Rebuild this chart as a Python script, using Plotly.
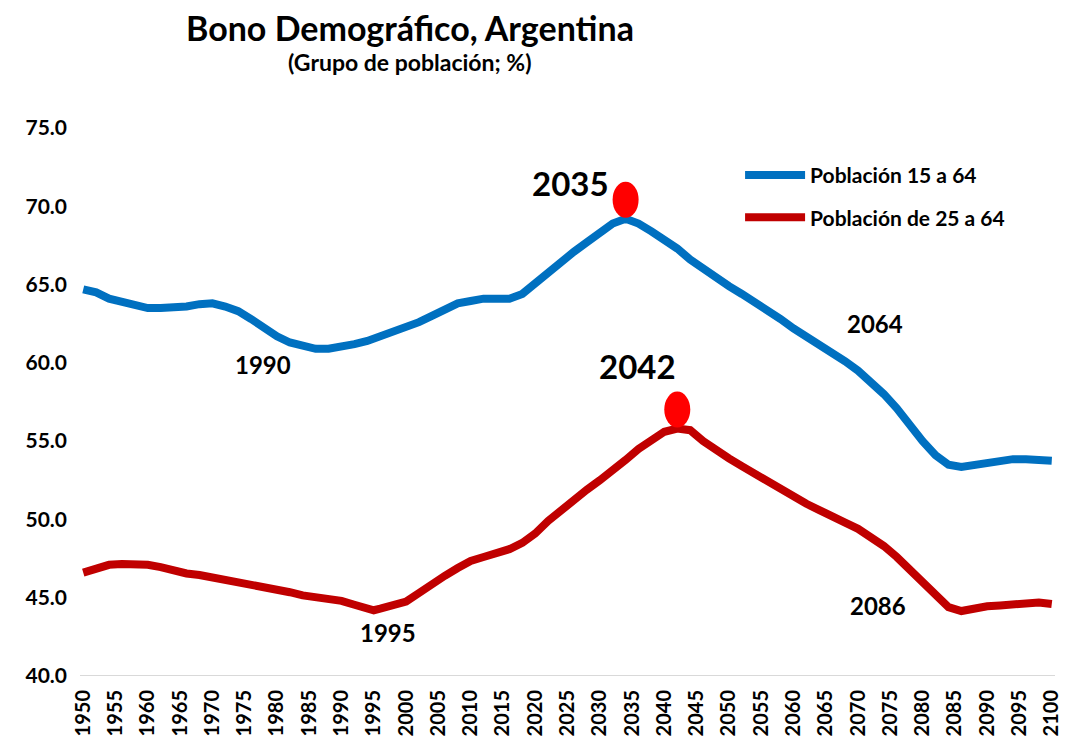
import plotly.graph_objects as go

years_a = [1950, 1952, 1954, 1956, 1958, 1960, 1962, 1964, 1966, 1968, 1970, 1972, 1974, 1976, 1978,
           1980, 1982, 1984, 1986, 1988, 1990, 1992, 1994, 1996, 1998, 2000, 2002, 2004, 2006, 2008,
           2010, 2012, 2014, 2016, 2018, 2020, 2022, 2024, 2026, 2028, 2030, 2032, 2034, 2036, 2038,
           2040, 2042, 2044, 2046, 2048, 2050, 2052, 2054, 2056, 2058, 2060, 2062, 2064, 2066, 2068,
           2070, 2072, 2074, 2076, 2078, 2080, 2082, 2084, 2086, 2088, 2090, 2092, 2094, 2096, 2098, 2100]
pob_15_64 = [64.7, 64.5, 64.1, 63.9, 63.6, 63.5, 63.5, 63.5, 63.6, 63.75, 63.8, 63.6, 63.3, 62.8, 62.2,
             61.7, 61.3, 61.05, 60.9, 60.9, 61.0, 61.2, 61.4, 61.7, 61.95, 62.2, 62.6, 63.0, 63.4, 63.8,
             63.95, 64.1, 64.1, 64.1, 64.4, 65.1, 65.8, 66.4, 67.1, 67.7, 68.3, 68.9, 69.2, 68.9, 68.4,
             67.9, 67.3, 66.6, 66.0, 65.4, 64.9, 64.4, 63.9, 63.4, 62.8, 62.2, 61.7, 61.2, 60.7, 60.1,
             59.5, 58.8, 58.0, 57.1, 56.0, 55.0, 54.1, 53.5, 53.35, 53.5, 53.65, 53.75, 53.85, 53.85, 53.85, 53.75]

years_b = [1950, 1952, 1954, 1956, 1958, 1960, 1962, 1964, 1966, 1968, 1970, 1972, 1974, 1976, 1978,
           1980, 1982, 1984, 1986, 1988, 1990, 1992, 1994, 1995, 1996, 1998, 2000, 2002, 2004, 2006,
           2008, 2010, 2012, 2014, 2016, 2018, 2020, 2022, 2024, 2026, 2028, 2030, 2032, 2034, 2036,
           2038, 2040, 2042, 2044, 2046, 2048, 2050, 2052, 2054, 2056, 2058, 2060, 2062, 2064, 2066,
           2068, 2070, 2072, 2074, 2076, 2078, 2080, 2082, 2084, 2086, 2088, 2090, 2092, 2094, 2096,
           2098, 2100]
pob_25_64 = [46.6, 46.9, 47.1, 47.15, 47.15, 47.1, 46.95, 46.7, 46.55, 46.45, 46.3, 46.2, 46.05, 45.9, 45.7,
             45.5, 45.35, 45.15, 45.05, 44.95, 44.8, 44.55, 44.3, 44.2, 44.3, 44.55, 44.75, 45.3, 45.9, 46.4,
             46.9, 47.35, 47.6, 47.85, 48.1, 48.5, 49.1, 49.9, 50.6, 51.3, 51.9, 52.5, 53.1, 53.8, 54.5,
             55.1, 55.6, 55.8, 55.7, 55.0, 54.4, 53.9, 53.4, 52.9, 52.4, 51.9, 51.4, 51.0, 50.6, 50.25,
             49.8, 49.4, 48.9, 48.3, 47.6, 46.8, 45.9, 45.1, 44.4, 44.15, 44.35, 44.45, 44.5, 44.6, 44.6,
             44.7, 44.6]

x_ticks = list(range(1950, 2101, 5))
y_ticks = [40, 45, 50, 55, 60, 65, 70, 75]

# peak points (year, value) for the red markers
peaks_x = [2034, 2042]
peaks_y = [max(pob_15_64), max(pob_25_64)]

# text labels: (text, year, value, size)
labels = [("2035", 2025.4, 71.5, 33), ("2042", 2035.9, 59.8, 33),
          ("1990", 1977.9, 59.9, 24), ("2064", 2072.6, 62.5, 24),
          ("1995", 1997.2, 42.8, 24), ("2086", 2073.1, 44.5, 24)]

FONT = "Lato"
fig = go.Figure()
fig.add_trace(go.Scatter(x=years_a, y=pob_15_64, mode="lines", name="<b>Población 15 a 64</b>",
                         legendgroup="a", line=dict(color="#0070C0", width=8)))
fig.add_trace(go.Scatter(x=years_b, y=pob_25_64, mode="lines", name="<b>Población de 25 a 64</b>",
                         legendgroup="b", line=dict(color="#C00000", width=8)))

for px_, py_ in zip(peaks_x, peaks_y):
    fig.add_shape(type="circle", xref="x", yref="y", xsizemode="pixel", ysizemode="pixel",
                  xanchor=px_, yanchor=py_, x0=-13, x1=13, y0=1, y1=37,
                  fillcolor="#FF0000", line=dict(width=0))

for t, lx, ly, s in labels:
    fig.add_annotation(x=lx, y=ly, text="<b>%s</b>" % t, showarrow=False,
                       font=dict(family=FONT, size=s, color="black"))

fig.add_annotation(xref="paper", yref="paper", x=0.338, y=1.184, xanchor="center", yanchor="middle",
                   text="<b>Bono Demográfico, Argentina</b>",
                   showarrow=False, font=dict(family=FONT, size=34, color="black"))
fig.add_annotation(xref="paper", yref="paper", x=0.338, y=1.121, xanchor="center", yanchor="middle",
                   text="<b>(Grupo de población; %)</b>",
                   showarrow=False, font=dict(family=FONT, size=23, color="black"))

fig.update_layout(
    width=1068, height=735,
    paper_bgcolor="white", plot_bgcolor="white",
    margin=dict(l=72, r=21, t=120, b=67),
    font=dict(family=FONT, color="black"),
    legend=dict(x=0.677, y=0.951, xanchor="left", yanchor="top",
                font=dict(family=FONT, size=21, color="black"),
                bgcolor="rgba(0,0,0,0)", itemwidth=60, tracegroupgap=12, traceorder="grouped"),
    showlegend=True,
)
fig.update_xaxes(range=[1949.5, 2100.5], tickvals=x_ticks, ticktext=[f"<b>{v}</b>" for v in x_ticks],
                 tickangle=-90, tickfont=dict(family=FONT, size=20, color="black"), automargin=False,
                 showgrid=False, zeroline=False, showline=False, ticks="", ticklabelstandoff=9)
fig.update_yaxes(range=[40, 75], tickvals=y_ticks, ticktext=[f"<b>{v:.1f}</b>" for v in y_ticks],
                 tickfont=dict(family=FONT, size=21, color="black"), automargin=False,
                 showgrid=False, zeroline=False, showline=False, ticks="", ticklabelstandoff=12)
fig.add_hline(y=40, line=dict(color="#D9D9D9", width=2), layer="below")

fig.write_html("out.html")
